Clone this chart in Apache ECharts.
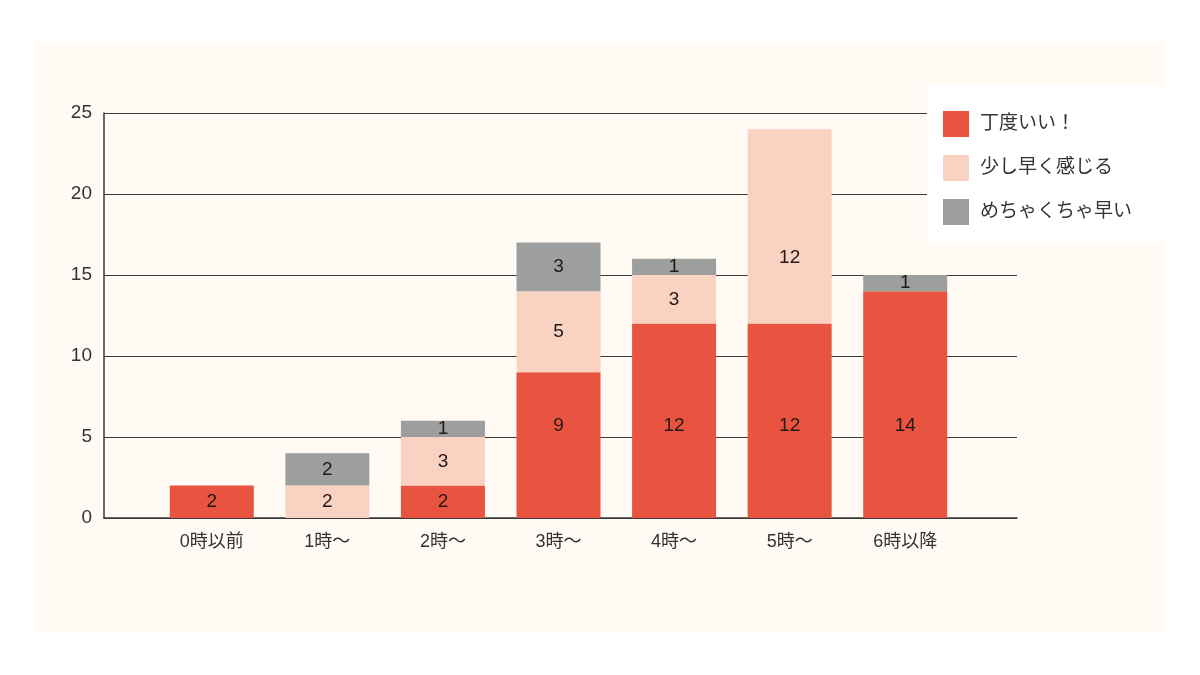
<!DOCTYPE html>
<html>
<head>
<meta charset="utf-8">
<script src="https://cdn.jsdelivr.net/npm/echarts@6/dist/echarts.min.js"></script>
<style>
html,body{margin:0;padding:0;background:#ffffff;}
#c{width:1200px;height:675px;}
</style>
</head>
<body>
<div id="c"></div>
<script>
const categories = ['0時以前', '1時〜', '2時〜', '3時〜', '4時〜', '5時〜', '6時以降'];
const seriesNames = ['丁度いい！', '少し早く感じる', 'めちゃくちゃ早い'];
const justRight = [2, 0, 2, 9, 12, 12, 14];
const bitEarly = [0, 2, 3, 5, 3, 12, 0];
const veryEarly = [0, 2, 1, 3, 1, 0, 1];
const yTicks = [0, 5, 10, 15, 20, 25];

const colors = ['#e85440', '#f9d2c2', '#9d9e9e'];
const FONT = '"Liberation Sans", "Noto Sans CJK JP", sans-serif';

const chart = echarts.init(document.getElementById('c'), null, {renderer: 'canvas'});

// tall segments: the reference sets the number low in the segment rather than centred
function mkSeries(name, data, color, tallDist) {
  return {
    name: name,
    type: 'bar',
    stack: 'total',
    xAxisIndex: 1,
    yAxisIndex: 1,
    barWidth: 84,
    data: data.map(v => (v >= 9 && tallDist ? {value: v, label: {position: 'insideBottom', distance: tallDist}} : v)),
    itemStyle: {color: color},
    label: {
      show: true,
      position: 'inside',
      color: '#231815',
      fontSize: 19,
      fontFamily: FONT,
      formatter: p => (p.value ? String(p.value) : '')
    },
    emphasis: {disabled: true}
  };
}

const TOP = 113, BOTTOM = 675 - 518;

chart.setOption({
  animation: false,
  backgroundColor: '#ffffff',
  graphic: [{
    type: 'rect',
    z: -10,
    shape: {x: 35, y: 42, width: 1130, height: 590},
    style: {fill: '#fffaf3'}
  }],
  legend: {
    orient: 'vertical',
    left: 927,
    top: 85,
    backgroundColor: '#ffffff',
    padding: [26, 32, 17, 16],
    itemWidth: 26,
    itemHeight: 26,
    itemGap: 18,
    icon: 'rect',
    data: seriesNames,
    textStyle: {fontSize: 19, color: '#333333', fontFamily: FONT, padding: [0, 0, 0, 6]}
  },
  grid: [
    {left: 104, right: 1200 - 1017, top: TOP, bottom: BOTTOM, containLabel: false},
    {left: 154, right: 1200 - 963, top: TOP, bottom: BOTTOM, containLabel: false}
  ],
  xAxis: [
    {
      type: 'category', gridIndex: 0, data: categories,
      axisLine: {show: true, lineStyle: {color: '#3a3a3a', width: 1.5}},
      axisTick: {show: false}, axisLabel: {show: false}, splitLine: {show: false}
    },
    {
      type: 'category', gridIndex: 1, data: categories,
      axisLine: {show: false}, axisTick: {show: false},
      axisLabel: {fontSize: 18, color: '#333333', fontFamily: FONT, margin: 15}
    }
  ],
  yAxis: [
    {
      type: 'value', gridIndex: 0, min: 0, max: 25, interval: 5,
      axisLine: {show: true, lineStyle: {color: '#3a3a3a', width: 1.5}},
      axisTick: {show: false},
      axisLabel: {fontSize: 19, color: '#333333', fontFamily: FONT, margin: 12,
        formatter: v => (yTicks.indexOf(v) >= 0 ? String(v) : '')},
      splitLine: {show: true, lineStyle: {color: '#3a3a3a', width: 1.2}}
    },
    {
      type: 'value', gridIndex: 1, min: 0, max: 25, interval: 5,
      axisLine: {show: false}, axisTick: {show: false}, axisLabel: {show: false},
      splitLine: {show: false}
    }
  ],
  series: [
    mkSeries(seriesNames[0], justRight, colors[0], 83),
    mkSeries(seriesNames[1], bitEarly, colors[1], 56),
    mkSeries(seriesNames[2], veryEarly, colors[2], 0)
  ]
});
</script>
</body>
</html>
